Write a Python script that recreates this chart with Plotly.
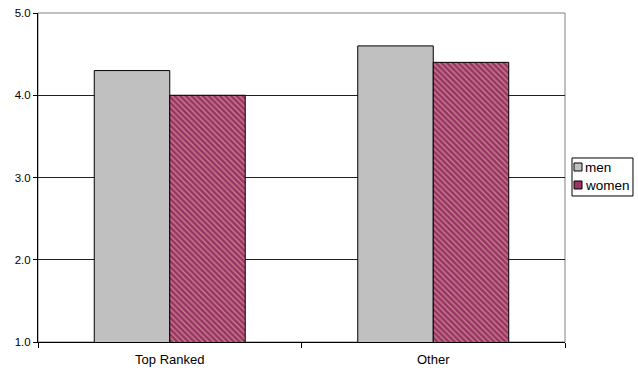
import plotly.graph_objects as go

# Mean scores by group
categories = ["Top Ranked", "Other"]
men = [4.3, 4.6]
women = [4.0, 4.4]
y_ticks = [1.0, 2.0, 3.0, 4.0, 5.0]

series_names = ["men", "women"]
series_colors = ["#C0C0C0", "#993366"]

fig = go.Figure()
fig.add_trace(go.Bar(
    name=series_names[0], x=categories, y=men,
    marker=dict(color=series_colors[0], line=dict(color="#000000", width=1)),
))
fig.add_trace(go.Bar(
    name=series_names[1], x=categories, y=women,
    marker=dict(
        color=series_colors[1],
        line=dict(color="#000000", width=1),
        pattern=dict(shape="\\", bgcolor=series_colors[1], fgcolor="#F5D2AE",
                     size=4, solidity=0.35, fillmode="overlay"),
    ),
))

shapes = [
    # plot area frame
    dict(type="rect", xref="paper", yref="paper", x0=0, x1=1, y0=0, y1=1,
         line=dict(color="#808080", width=1), layer="below"),
    # compact legend box
    dict(type="rect", xref="paper", yref="paper", x0=1.0133, x1=1.1290,
         y0=0.4438, y1=0.5593, line=dict(color="#000000", width=1),
         fillcolor="white"),
]
annotations = []
legend_rows = [(0.5441, 0.5198, 0.5319), (0.4894, 0.4650, 0.4772)]
for name, color, (ytop, ybot, ytext) in zip(series_names, series_colors, legend_rows):
    shapes.append(dict(type="rect", xref="paper", yref="paper",
                       x0=1.0171, x1=1.0323, y0=ybot, y1=ytop,
                       line=dict(color="#000000", width=1), fillcolor=color))
    annotations.append(dict(xref="paper", yref="paper", x=1.0341, y=ytext,
                            xanchor="left", yanchor="middle", text=name,
                            showarrow=False, font=dict(size=13.5)))

fig.update_layout(
    width=638, height=371,
    margin=dict(l=38, r=73, t=13, b=29, autoexpand=False),
    paper_bgcolor="white", plot_bgcolor="white",
    font=dict(family="Liberation Sans, Arial, sans-serif", size=11, color="#000000"),
    barmode="group", bargap=0.427, bargroupgap=0,
    showlegend=False,
    shapes=shapes, annotations=annotations,
    xaxis=dict(
        showline=True, linecolor="#000000", linewidth=1,
        ticks="outside", ticklen=5, tickcolor="#000000", tickson="boundaries",
        showgrid=False, tickfont=dict(size=13), ticklabelstandoff=5,
        automargin=False,
    ),
    yaxis=dict(
        range=[1, 5], tickvals=y_ticks, tickformat=".1f",
        showline=True, linecolor="#000000", linewidth=1,
        ticks="outside", ticklen=4, tickcolor="#000000",
        showgrid=True, gridcolor="#202020", gridwidth=1,
        zeroline=False, tickfont=dict(size=11.5), automargin=False,
    ),
)

fig.write_html("out.html")
